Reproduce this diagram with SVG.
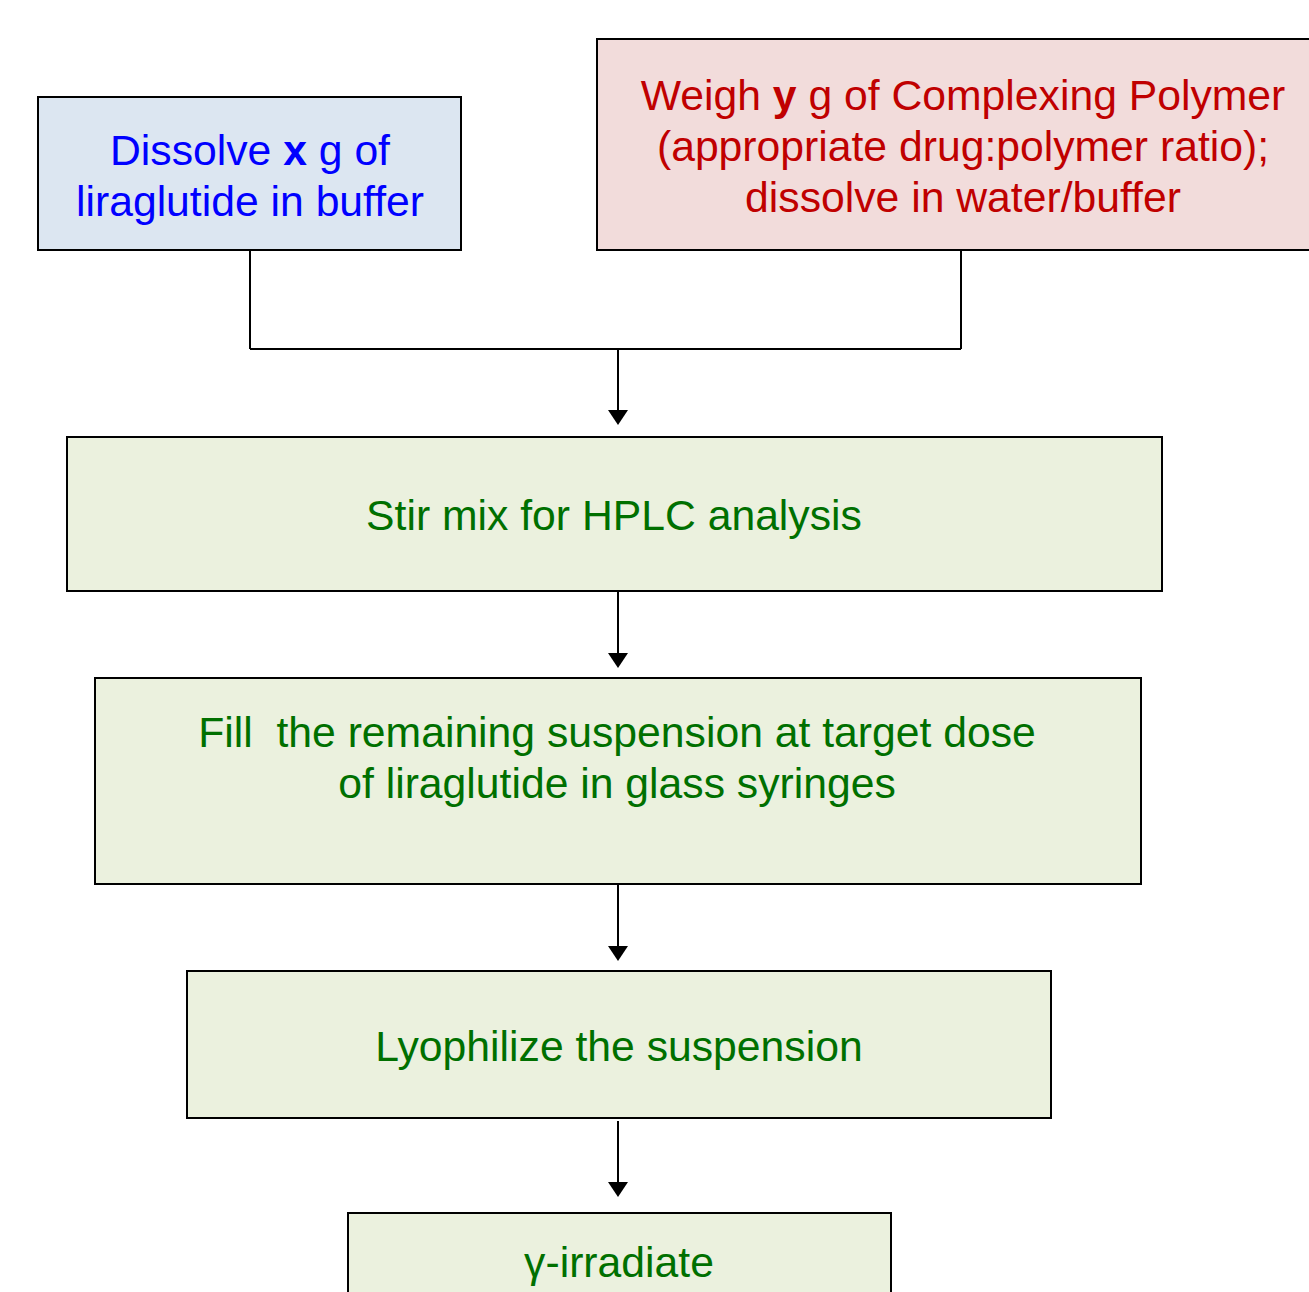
<svg xmlns="http://www.w3.org/2000/svg" width="1309" height="1292" viewBox="0 0 1309 1292">
<style>
.box{stroke:#000;stroke-width:2}
.t{font-family:"Liberation Sans",Arial,sans-serif;font-size:42.7px;text-anchor:middle}
.blue{fill:#0000ff}
.red{fill:#c00000}
.green{fill:#007000}
.conn{stroke:#000;stroke-width:2;fill:none}
</style>
<rect width="1309" height="1292" fill="#fff"/>
<g id="connectors">
<path class="conn" d="M250,251 V349"/>
<path class="conn" d="M961,251 V349"/>
<path class="conn" d="M250,349 H961"/>
<path d="M618,349 V410" class="conn"/>
<path d="M608,410 L628,410 L618,425 Z" fill="#000"/>
<path d="M618,592 V653" class="conn"/>
<path d="M608,653 L628,653 L618,668 Z" fill="#000"/>
<path d="M618,885 V946" class="conn"/>
<path d="M608,946 L628,946 L618,961 Z" fill="#000"/>
<path d="M618,1121 V1182" class="conn"/>
<path d="M608,1182 L628,1182 L618,1197 Z" fill="#000"/>
</g>
<g id="node-dissolve">
<rect class="box" x="38" y="97" width="423" height="153" fill="#dce6f1"/>
<text class="t blue" x="250" y="165">Dissolve <tspan font-weight="bold">x</tspan> g of</text>
<text class="t blue" x="250" y="216">liraglutide in buffer</text>
</g>
<g id="node-weigh">
<rect class="box" x="597" y="39" width="720" height="211" fill="#f2dcdb"/>
<text class="t red" x="963" y="110">Weigh <tspan font-weight="bold">y</tspan> g of Complexing Polymer</text>
<text class="t red" x="963" y="161">(appropriate drug:polymer ratio);</text>
<text class="t red" x="963" y="212">dissolve in water/buffer</text>
</g>
<g id="node-stir">
<rect class="box" x="67" y="437" width="1095" height="154" fill="#ebf1de"/>
<text class="t green" x="614" y="530">Stir mix for HPLC analysis</text>
</g>
<g id="node-fill">
<rect class="box" x="95" y="678" width="1046" height="206" fill="#ebf1de"/>
<text class="t green" x="617" y="747" xml:space="preserve" style="white-space:pre">Fill  the remaining suspension at target dose</text>
<text class="t green" x="617" y="798">of liraglutide in glass syringes</text>
</g>
<g id="node-lyophilize">
<rect class="box" x="187" y="971" width="864" height="147" fill="#ebf1de"/>
<text class="t green" x="619" y="1061">Lyophilize the suspension</text>
</g>
<g id="node-irradiate">
<rect class="box" x="348" y="1213" width="543" height="100" fill="#ebf1de"/>
<text class="t green" x="619" y="1277">γ-irradiate</text>
</g>
</svg>
